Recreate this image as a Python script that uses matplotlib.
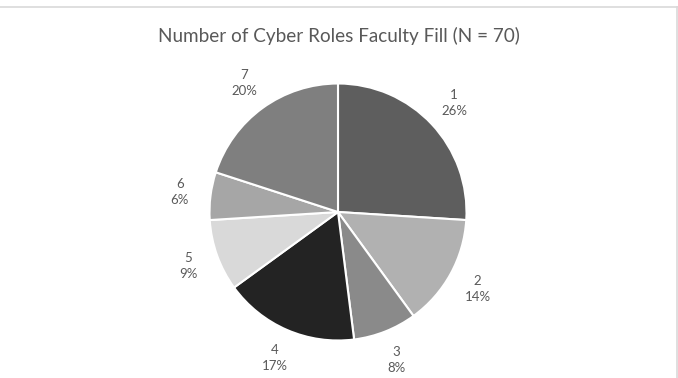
import matplotlib
matplotlib.use("Agg")
from matplotlib import pyplot as plt
from matplotlib.lines import Line2D

# roles filled per faculty member, share of respondents (%)
roles = ["1", "2", "3", "4", "5", "6", "7"]
shares = [26, 14, 8, 17, 9, 6, 20]
colors = ["#5e5e5e", "#b1b1b1", "#8a8a8a", "#232323", "#d9d9d9", "#a6a6a6", "#7f7f7f"]

plt.rcParams['font.family'] = ['Lato', 'DejaVu Sans']

W, H = 678, 378
fig = plt.figure(figsize=(W / 100, H / 100), dpi=100)
ax = fig.add_axes([0, 0, 1, 1])

labels = [f"{k}\n{v}%" for k, v in zip(roles, shares)]
wedges, texts = ax.pie(shares, labels=labels, colors=colors, startangle=90,
                       counterclock=False, labeldistance=1.24,
                       wedgeprops=dict(edgecolor='white', linewidth=1.5),
                       textprops=dict(color='#595959', fontsize=9.5, linespacing=1.4))
for t in texts:
    t.set_horizontalalignment('center')
    t.set_verticalalignment('center')

# pie centre at (338, 212) px, radius ~128 px
cx, cy, r = 338, 212, 128.5
ax.set_xlim(-cx / r, (W - cx) / r)
ax.set_ylim(-(H - cy) / r, cy / r)
ax.set_aspect('equal')
ax.axis('off')

fig.text(0.5, 1 - 36 / H, "Number of Cyber Roles Faculty Fill (N = 70)",
         ha='center', va='center', fontsize=13.6, color='#595959')

# chart frame (top and right edges visible)
fig.add_artist(Line2D([0, 1], [1 - 6.5 / H] * 2, color='#d9d9d9', lw=1.2))
fig.add_artist(Line2D([1 - 1.5 / W] * 2, [0, 1 - 6.5 / H], color='#d9d9d9', lw=1.2))

fig.savefig("out.png", dpi=100, facecolor='white')
